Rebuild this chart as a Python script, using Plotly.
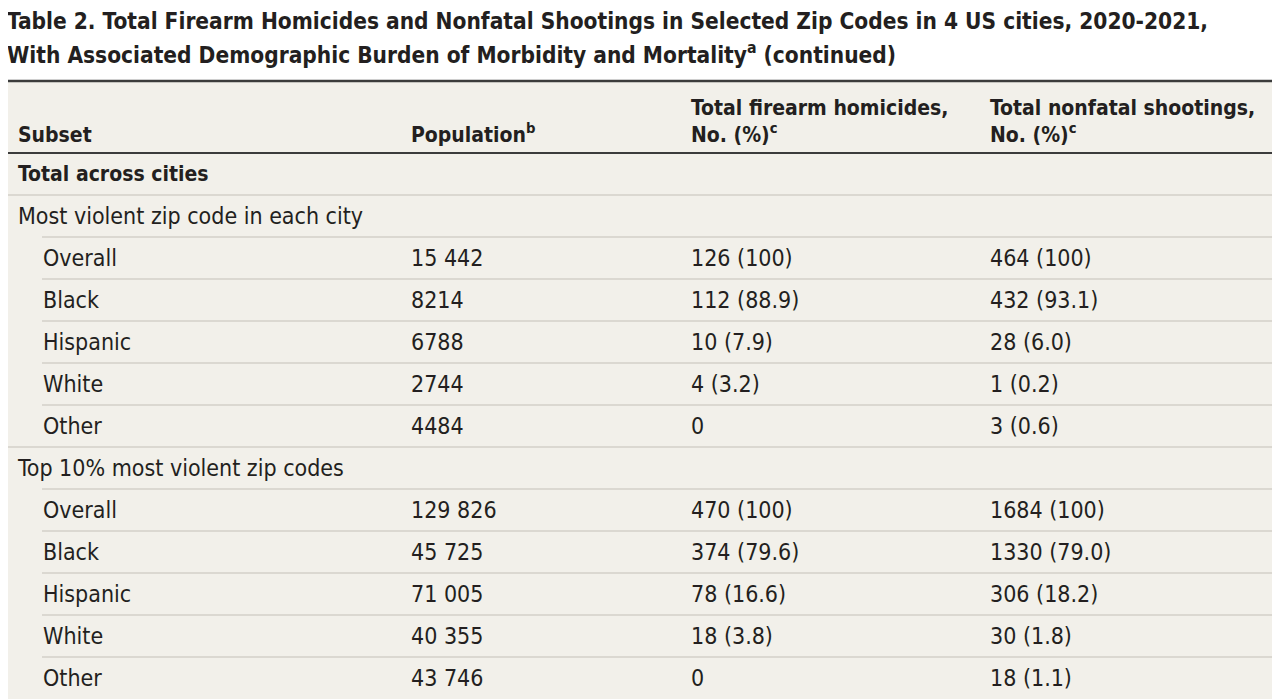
import plotly.graph_objects as go

title_lines = [
    "Table 2. Total Firearm Homicides and Nonfatal Shootings in Selected Zip Codes in 4 US cities, 2020-2021,",
    "With Associated Demographic Burden of Morbidity and Mortality<sup>a</sup> (continued)",
]
headers = ["Subset", "Population<sup>b</sup>",
           "Total firearm homicides,<br>No. (%)<sup>c</sup>",
           "Total nonfatal shootings,<br>No. (%)<sup>c</sup>"]

subset = ["Total across cities",
          "Most violent zip code in each city",
          "Overall", "Black", "Hispanic", "White", "Other",
          "Top 10% most violent zip codes",
          "Overall", "Black", "Hispanic", "White", "Other"]
population = ["", "", "15 442", "8214", "6788", "2744", "4484",
              "", "129 826", "45 725", "71 005", "40 355", "43 746"]
homicides = ["", "", "126 (100)", "112 (88.9)", "10 (7.9)", "4 (3.2)", "0",
             "", "470 (100)", "374 (79.6)", "78 (16.6)", "18 (3.8)", "0"]
nonfatal = ["", "", "464 (100)", "432 (93.1)", "28 (6.0)", "1 (0.2)", "3 (0.6)",
            "", "1684 (100)", "1330 (79.0)", "306 (18.2)", "30 (1.8)", "18 (1.1)"]
section_rows = ["Total across cities"]

FONT = "DejaVu Sans Condensed, Liberation Sans Narrow, sans-serif"
INK = "#231f20"
BEIGE = "#f2f0ea"
RULE = "#d3d0c9"
DARK = "#3c3c3c"

W, H = 1280, 699
PAGE_PAD = 8  # browser body margin around the plot div
table_left = 7
col_x = [18, 411, 691, 990]
indent_x = 43
first_row_y = 173
row_h = 42
text_dy = 3


def row_y(i):
    return first_row_y + row_h * i


is_item = [v != "" for v in population]

fig = go.Figure()

# body rows
for col, values in enumerate([subset, population, homicides, nonfatal]):
    xs, ys, ts = [], [], []
    bx, by, bt = [], [], []
    for i, v in enumerate(values):
        if v == "":
            continue
        x = col_x[col]
        if col == 0 and is_item[i]:
            x = indent_x
        if col == 0 and v in section_rows and not is_item[i]:
            bx.append(x); by.append(row_y(i) + text_dy); bt.append(v)
        else:
            xs.append(x); ys.append(row_y(i) + text_dy); ts.append(v)
    fig.add_trace(go.Scatter(
        x=xs, y=ys, text=ts, mode="text", textposition="middle right",
        textfont=dict(family=FONT, size=23, color=INK),
        hoverinfo="skip", showlegend=False))
    if bt:
        fig.add_trace(go.Scatter(
            x=bx, y=by, text=bt, mode="text", textposition="middle right",
            textfont=dict(family=FONT, size=21, color=INK, weight="bold"),
            hoverinfo="skip", showlegend=False))

# header row
hx, hy, ht = [], [], []
for col, h in enumerate(headers):
    lines = h.split("<br>")
    for k, line in enumerate(reversed(lines)):
        hx.append(col_x[col])
        hy.append(137 - 27 * k)
        ht.append(line)
fig.add_trace(go.Scatter(
    x=hx, y=hy, text=ht, mode="text", textposition="middle right",
    textfont=dict(family=FONT, size=21, color=INK, weight="bold"),
    hoverinfo="skip", showlegend=False))

# title
fig.add_trace(go.Scatter(
    x=[table_left, table_left], y=[23, 57], text=title_lines, mode="text",
    textposition="middle right",
    textfont=dict(family=FONT, size=22.5, color=INK, weight="bold"),
    hoverinfo="skip", showlegend=False))

shapes = [
    dict(type="rect", x0=table_left, x1=W + PAGE_PAD, y0=80, y1=H + PAGE_PAD,
         fillcolor=BEIGE, line=dict(width=0), layer="below"),
    dict(type="line", x0=table_left, x1=W + PAGE_PAD, y0=81, y1=81,
         line=dict(color=DARK, width=2.5)),
    dict(type="line", x0=table_left, x1=W + PAGE_PAD, y0=153, y1=153,
         line=dict(color=DARK, width=2)),
]
for i in range(1, len(subset)):
    y = (row_y(i - 1) + row_y(i)) / 2 + 1
    x0 = indent_x - 1 if is_item[i] else table_left
    shapes.append(dict(type="line", x0=x0, x1=W + PAGE_PAD, y0=y, y1=y,
                       line=dict(color=RULE, width=1.5), layer="below"))

fig.update_layout(
    width=W, height=H,
    margin=dict(l=0, r=0, t=0, b=0),
    paper_bgcolor="white", plot_bgcolor="white",
    xaxis=dict(range=[PAGE_PAD, W + PAGE_PAD], visible=False, fixedrange=True),
    yaxis=dict(range=[H + PAGE_PAD, PAGE_PAD], visible=False, fixedrange=True),
    shapes=shapes,
)

fig.write_html("out.html")
